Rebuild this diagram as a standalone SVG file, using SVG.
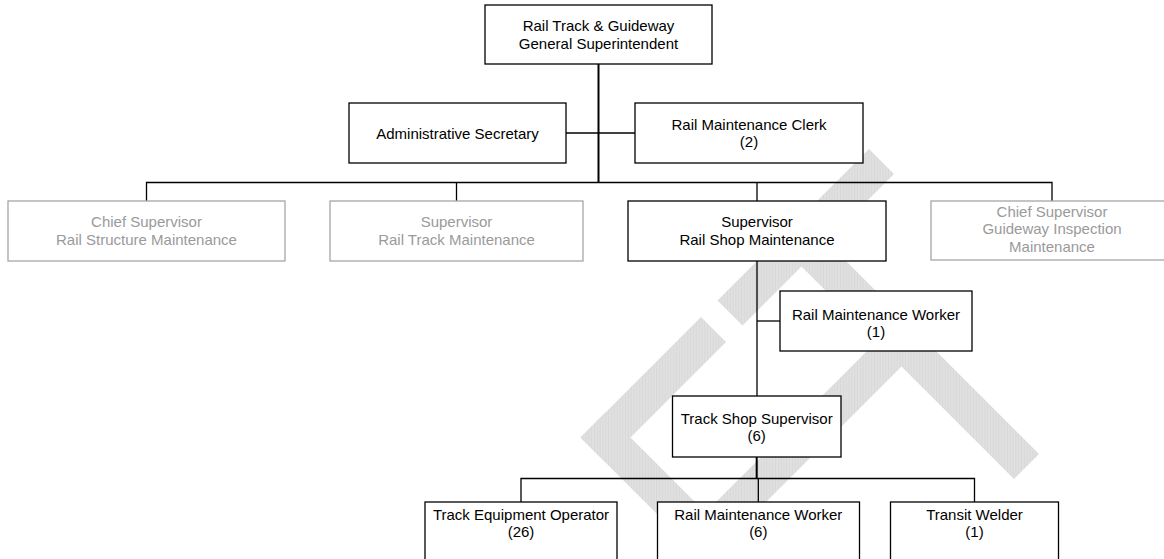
<svg xmlns="http://www.w3.org/2000/svg" width="1164" height="559" viewBox="0 0 1164 559">
  <style>
    .box { fill: #ffffff; stroke: #000000; stroke-width: 1.3; }
    .box.muted { stroke: #a6a6a6; }
    .lbl { font-family: "Liberation Sans", Arial, sans-serif; font-size: 15px; fill: #000000; text-anchor: middle; }
    .lbl.muted { fill: #9a9a9a; }
    .wire { fill: none; stroke: #000000; stroke-width: 1.3; }
    .wire.main { stroke-width: 2; }
  </style>
  <defs>
    <pattern id="hatch" width="4" height="4" patternUnits="userSpaceOnUse" patternTransform="rotate(45)">
      <rect width="4" height="4" fill="#e0e0e0"/>
      <rect width="1" height="4" fill="#d6d6d6"/>
    </pattern>
  </defs>

  <rect width="1164" height="559" fill="#ffffff"/>

  <!-- background watermark, drawn in rotated (u = x + y, v = x - y) coordinates -->
  <g id="watermark" transform="matrix(0.5 0.5 0.5 -0.5 0 0)" fill="url(#hatch)">
    <rect x="1018" y="143" width="50" height="241"/>
    <rect x="1018" y="417" width="50" height="303"/>
    <rect x="1018" y="143" width="250" height="50"/>
    <rect x="1218" y="143" width="50" height="442"/>
    <rect x="1018" y="535" width="475" height="50"/>
  </g>

  <!-- reporting lines -->
  <g id="connectors">
    <path class="wire main" d="M598.5 64 V182.5"/>
    <path class="wire" d="M566 133 H635"/>
    <path class="wire" d="M146.5 201 V182.5 H1052 V201"/>
    <path class="wire" d="M456.5 182.5 V201"/>
    <path class="wire" d="M757 182.5 V201"/>
    <path class="wire" d="M757 261 V396"/>
    <path class="wire" d="M757 321 H780"/>
    <path class="wire main" d="M756.7 457 V478.5"/>
    <path class="wire" d="M521 502 V478.5 H974.5 V502"/>
    <path class="wire" d="M758.3 478.5 V502"/>
  </g>

  <g id="general-superintendent">
    <rect class="box" x="485" y="5" width="227" height="59"/>
    <text class="lbl" x="598.5" y="31">Rail Track &amp; Guideway</text>
    <text class="lbl" x="598.5" y="49">General Superintendent</text>
  </g>

  <g id="administrative-secretary">
    <rect class="box" x="349" y="103" width="217" height="60"/>
    <text class="lbl" x="457.5" y="138.5">Administrative Secretary</text>
  </g>

  <g id="rail-maintenance-clerk">
    <rect class="box" x="635" y="103" width="228" height="60"/>
    <text class="lbl" x="749" y="129.5">Rail Maintenance Clerk</text>
    <text class="lbl" x="749" y="147">(2)</text>
  </g>

  <g id="rail-structure-maintenance">
    <rect class="box muted" x="8" y="201" width="277" height="60"/>
    <text class="lbl muted" x="146.5" y="227">Chief Supervisor</text>
    <text class="lbl muted" x="146.5" y="245">Rail Structure Maintenance</text>
  </g>

  <g id="rail-track-maintenance">
    <rect class="box muted" x="330" y="201" width="253" height="60"/>
    <text class="lbl muted" x="456.5" y="227">Supervisor</text>
    <text class="lbl muted" x="456.5" y="245">Rail Track Maintenance</text>
  </g>

  <g id="rail-shop-maintenance">
    <rect class="box" x="628" y="201" width="258" height="60"/>
    <text class="lbl" x="757" y="227">Supervisor</text>
    <text class="lbl" x="757" y="245">Rail Shop Maintenance</text>
  </g>

  <g id="guideway-inspection-maintenance">
    <rect class="box muted" x="931" y="201" width="242" height="59"/>
    <text class="lbl muted" x="1052" y="216.5">Chief Supervisor</text>
    <text class="lbl muted" x="1052" y="234">Guideway Inspection</text>
    <text class="lbl muted" x="1052" y="251.5">Maintenance</text>
  </g>

  <g id="rail-maintenance-worker-1">
    <rect class="box" x="780" y="291" width="192" height="60"/>
    <text class="lbl" x="876" y="319.5">Rail Maintenance Worker</text>
    <text class="lbl" x="876" y="336.5">(1)</text>
  </g>

  <g id="track-shop-supervisor">
    <rect class="box" x="672.5" y="396" width="168.5" height="61"/>
    <text class="lbl" x="756.7" y="423.5">Track Shop Supervisor</text>
    <text class="lbl" x="756.7" y="441">(6)</text>
  </g>

  <g id="track-equipment-operator">
    <rect class="box" x="425" y="502" width="192" height="70"/>
    <text class="lbl" x="521" y="519.5">Track Equipment Operator</text>
    <text class="lbl" x="521" y="537">(26)</text>
  </g>

  <g id="rail-maintenance-worker-6">
    <rect class="box" x="657.5" y="502" width="202" height="70"/>
    <text class="lbl" x="758.3" y="519.5">Rail Maintenance Worker</text>
    <text class="lbl" x="758.3" y="537">(6)</text>
  </g>

  <g id="transit-welder">
    <rect class="box" x="890.5" y="502" width="168" height="70"/>
    <text class="lbl" x="974.5" y="519.5">Transit Welder</text>
    <text class="lbl" x="974.5" y="537">(1)</text>
  </g>
</svg>
